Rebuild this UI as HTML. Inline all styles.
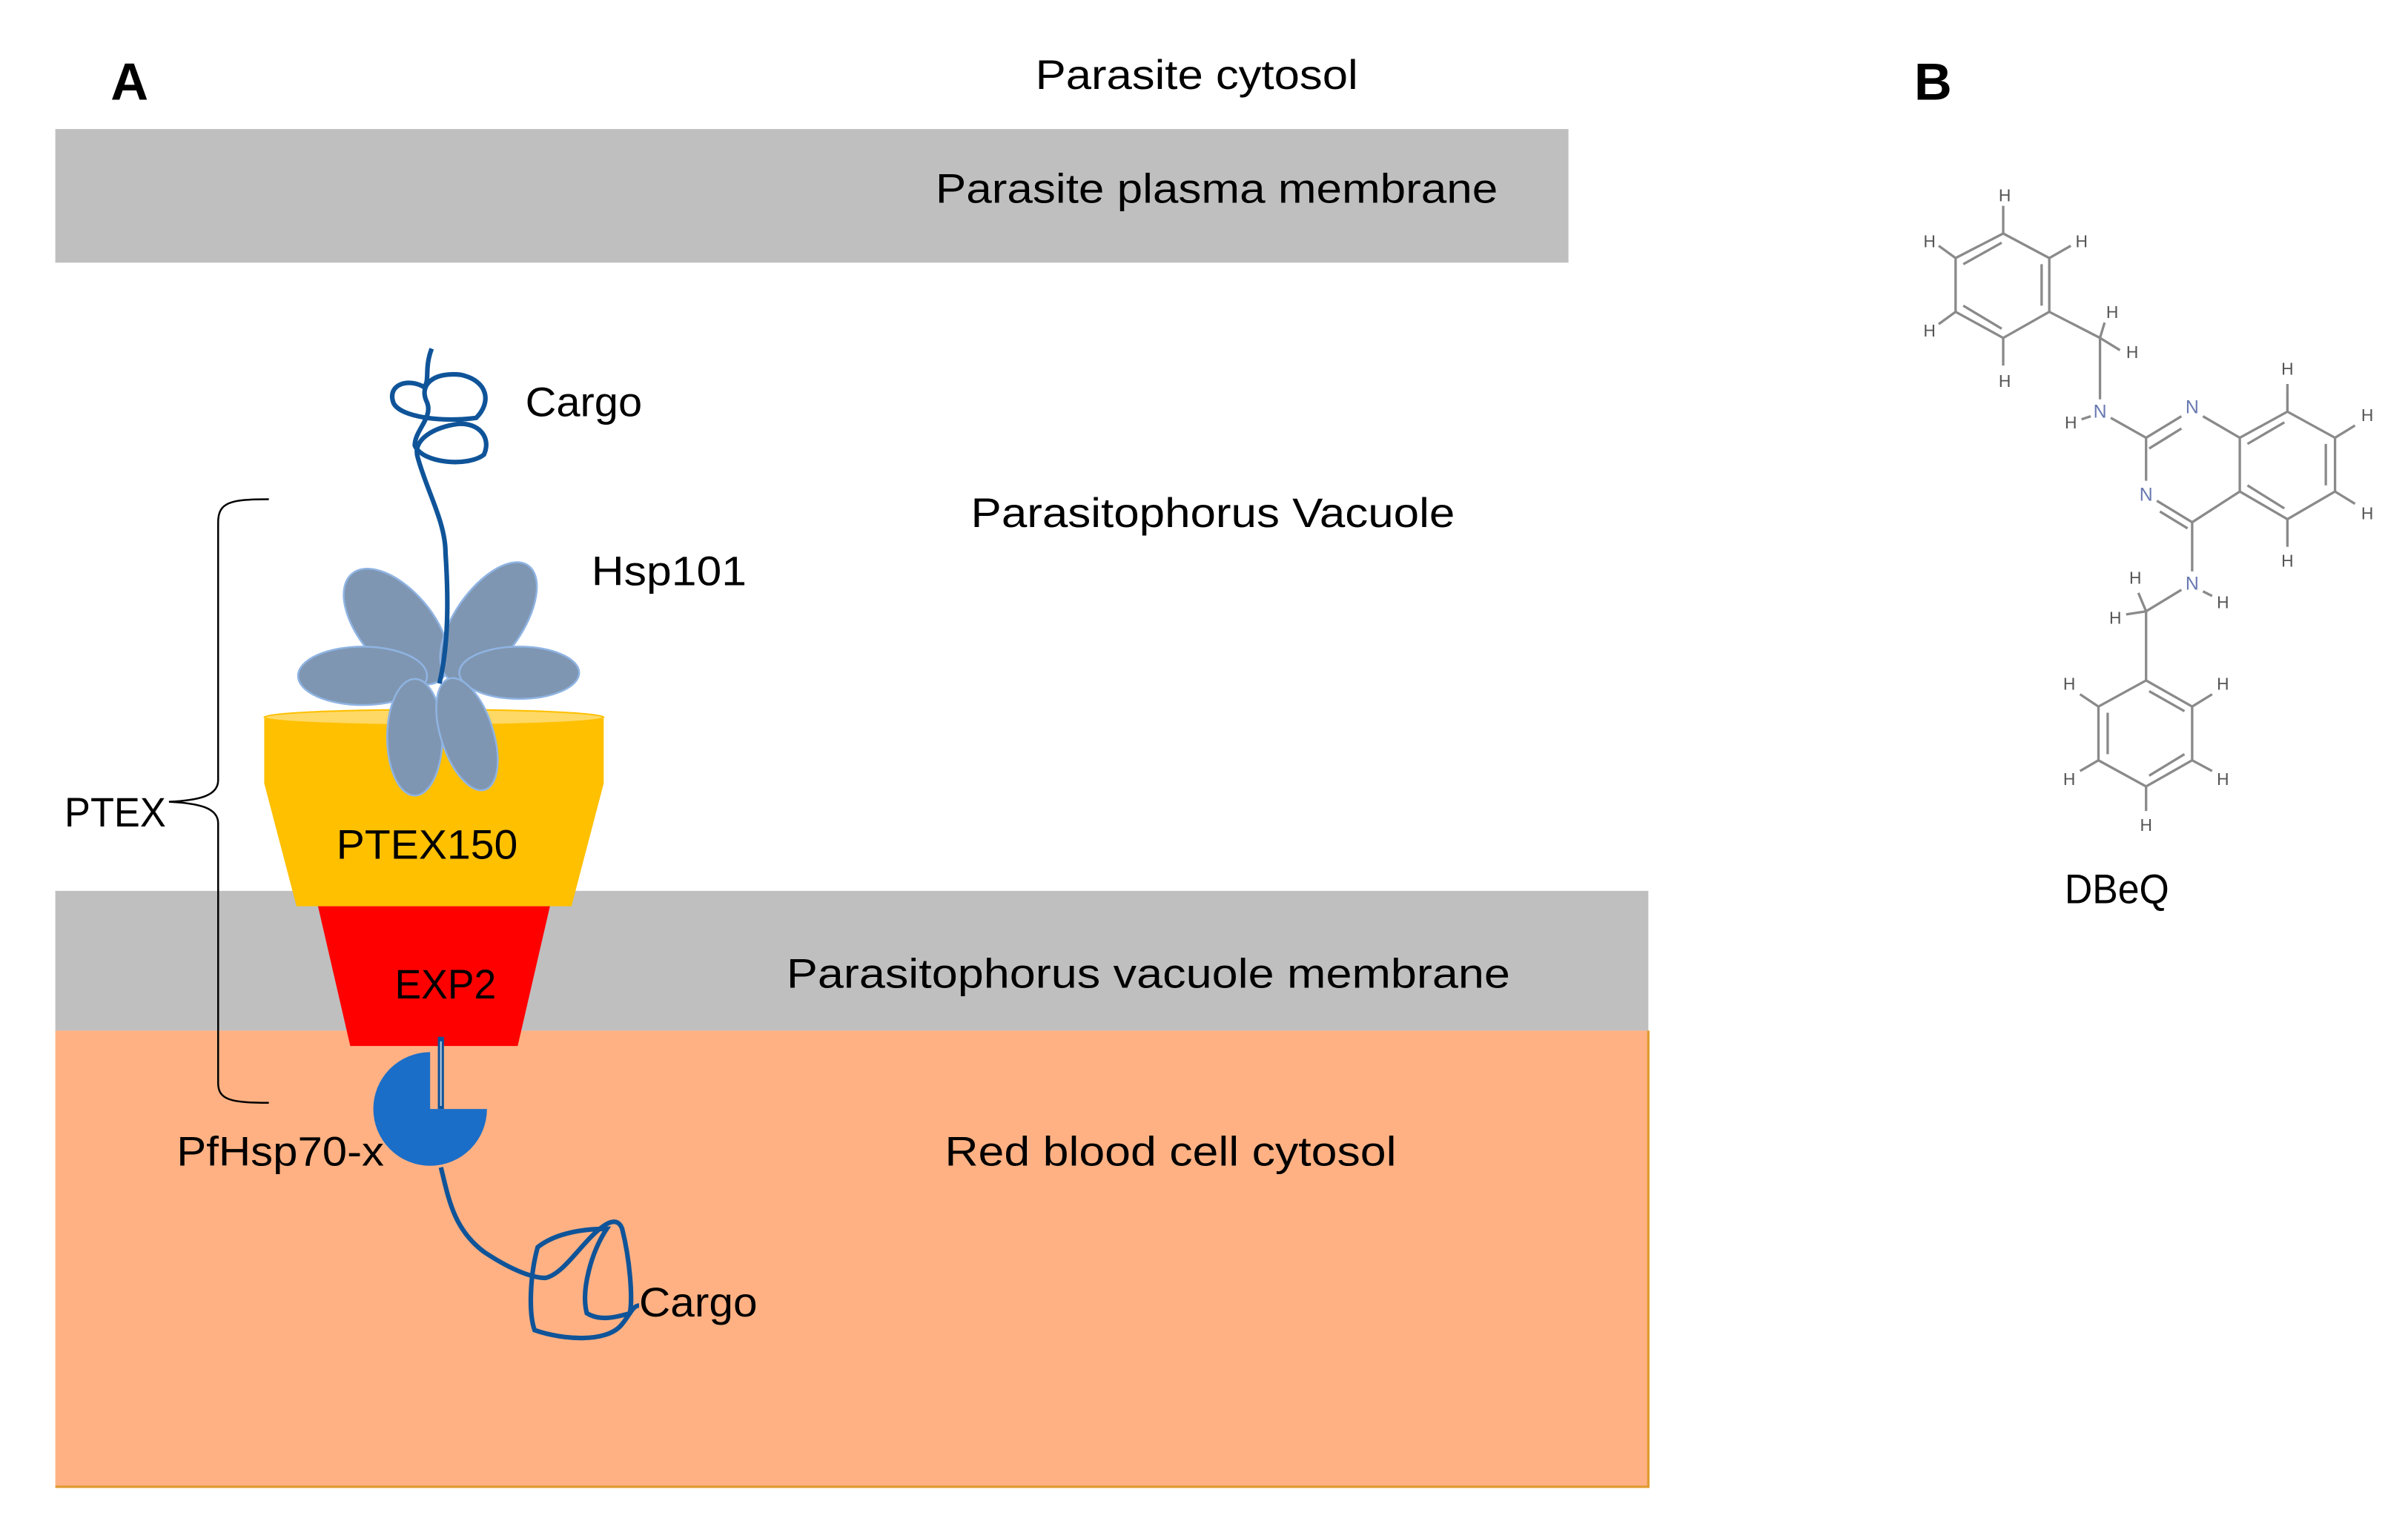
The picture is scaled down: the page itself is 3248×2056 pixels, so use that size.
<!DOCTYPE html>
<html><head><meta charset="utf-8"><style>html,body{margin:0;padding:0;background:#fff}svg{display:block}</style></head>
<body>
<svg xmlns="http://www.w3.org/2000/svg" width="3248" height="2056" viewBox="0 0 1567.5 992.2">
<g font-family="Liberation Sans, Arial, sans-serif" font-size="27" fill="#000">
<rect x="36" y="84" width="985" height="87" fill="#bfbfbf"/>
<rect x="36" y="580" width="1037" height="91" fill="#bfbfbf"/>
<rect x="36" y="671" width="1037" height="297" fill="#ffb183"/>
<path d="M1073,671 V968 H36" fill="none" stroke="#e09a2c" stroke-width="1.5"/>

<text x="72" y="65" font-size="34" font-weight="bold">A</text>
<text x="1246" y="65" font-size="34" font-weight="bold">B</text>
<text x="674" y="58" textLength="210" lengthAdjust="spacingAndGlyphs">Parasite cytosol</text>
<text x="609" y="132" textLength="366" lengthAdjust="spacingAndGlyphs">Parasite plasma membrane</text>
<text x="632" y="343" textLength="315" lengthAdjust="spacingAndGlyphs">Parasitophorus Vacuole</text>
<text x="512" y="643" textLength="471" lengthAdjust="spacingAndGlyphs">Parasitophorus vacuole membrane</text>
<text x="615" y="759" textLength="294" lengthAdjust="spacingAndGlyphs">Red blood cell cytosol</text>
<text x="342" y="271" textLength="76" lengthAdjust="spacingAndGlyphs">Cargo</text>
<text x="385" y="381" textLength="101" lengthAdjust="spacingAndGlyphs">Hsp101</text>
<text x="42" y="538" textLength="66" lengthAdjust="spacingAndGlyphs">PTEX</text>
<text x="115" y="759" textLength="135" lengthAdjust="spacingAndGlyphs">PfHsp70-x</text>
<text x="416" y="857" textLength="77" lengthAdjust="spacingAndGlyphs">Cargo</text>
<text x="1344" y="588" textLength="68" lengthAdjust="spacingAndGlyphs">DBeQ</text>

<path d="M175,325 C150,325 142,327 142,340 L142,508 C142,518 130,521 110,522 C130,523 142,526 142,536 L142,705 C142,716 150,718 175,718" fill="none" stroke="#000" stroke-width="1.2"/>

<polygon points="172,468 393,468 393,510 372,590 193,590 172,510" fill="#ffc000"/>
<ellipse cx="282.5" cy="467" rx="110.5" ry="5" fill="#ffd966" stroke="#ffc000" stroke-width="1"/>
<polygon points="207,590 358,590 337,681 228,681" fill="#ff0000"/>
<text x="219" y="559" textLength="118" lengthAdjust="spacingAndGlyphs">PTEX150</text>
<text x="257" y="650" textLength="66" lengthAdjust="spacingAndGlyphs">EXP2</text>

<g fill="#7f96b2" stroke="#8fb4e3" stroke-width="1.2">
<ellipse cx="258" cy="408" rx="45" ry="24" transform="rotate(50 258 408)"/>
<ellipse cx="318" cy="405" rx="45" ry="22" transform="rotate(-55 318 405)"/>
<ellipse cx="236" cy="440" rx="42" ry="19"/>
<ellipse cx="338" cy="438" rx="39" ry="17"/>
<ellipse cx="270" cy="480" rx="18" ry="38"/>
<ellipse cx="304" cy="478" rx="17" ry="38" transform="rotate(-18 304 478)"/>
</g>

<path d="M281,227 C276,240 280,248 276,252 C266,246 252,250 256,262 C260,272 290,275 310,272 C320,262 318,248 300,244 C283,242 272,250 278,262 C282,272 270,280 270,290 C275,302 305,304 315,296 C320,285 312,275 298,276 C283,278 268,286 272,298 C278,320 290,340 290,360 C292,390 292,420 286,445" fill="none" stroke="#0f5499" stroke-width="3"/>

<path d="M280,722 L280,685 A37,37 0 1,0 317,722 Z" fill="#1b6ec8"/>
<line x1="287" y1="675" x2="287" y2="722" stroke="#0f5499" stroke-width="4"/>
<line x1="287" y1="678" x2="287" y2="720" stroke="#bcd" stroke-width="1"/>
<path d="M287,760 C292,780 295,800 315,815 C330,825 345,832 355,832 C365,830 375,815 385,805 C395,795 402,792 405,800 C410,820 412,845 410,855 C400,858 390,860 382,855 C378,840 385,815 395,800 C390,800 365,800 350,812 C345,830 344,855 348,866 C365,872 395,875 405,862 C410,856 412,850 416,850" fill="none" stroke="#0f5499" stroke-width="3"/>

<g stroke="#8a8a8a" stroke-width="1.6" fill="none">
<polygon points="1304,152 1334,168 1334,203 1304,220 1273,203 1273,168"/>
<line x1="1278" y1="172" x2="1303" y2="158"/><line x1="1329" y1="172" x2="1329" y2="199"/><line x1="1278" y1="199" x2="1303" y2="214"/>
<line x1="1304" y1="152" x2="1304" y2="134"/><line x1="1273" y1="168" x2="1262" y2="160"/><line x1="1334" y1="168" x2="1348" y2="160"/><line x1="1273" y1="203" x2="1262" y2="211"/><line x1="1304" y1="220" x2="1304" y2="238"/>
<line x1="1334" y1="203" x2="1367" y2="220"/><line x1="1367" y1="220" x2="1370" y2="210"/><line x1="1367" y1="220" x2="1380" y2="228"/>
<line x1="1367" y1="220" x2="1367" y2="260"/><line x1="1361" y1="271" x2="1355" y2="273"/>
<line x1="1374" y1="272" x2="1397" y2="285"/>
<line x1="1397" y1="285" x2="1420" y2="271"/><line x1="1399" y1="292" x2="1420" y2="279"/>
<line x1="1434" y1="271" x2="1458" y2="285"/>
<line x1="1397" y1="285" x2="1397" y2="313"/>
<line x1="1404" y1="326" x2="1427" y2="340"/><line x1="1406" y1="333" x2="1424" y2="344"/>
<line x1="1427" y1="340" x2="1458" y2="320"/>
<line x1="1458" y1="285" x2="1458" y2="320"/>
<polyline points="1458,285 1489,268 1520,285 1520,320 1489,338 1458,320"/>
<line x1="1463" y1="289" x2="1487" y2="275"/><line x1="1514" y1="289" x2="1514" y2="316"/><line x1="1463" y1="316" x2="1487" y2="331"/>
<line x1="1489" y1="268" x2="1489" y2="250"/><line x1="1520" y1="285" x2="1533" y2="277"/><line x1="1520" y1="320" x2="1533" y2="328"/><line x1="1489" y1="338" x2="1489" y2="356"/>
<line x1="1427" y1="340" x2="1427" y2="372"/><line x1="1434" y1="385" x2="1440" y2="388"/>
<line x1="1420" y1="384" x2="1397" y2="398"/><line x1="1397" y1="398" x2="1392" y2="386"/><line x1="1397" y1="398" x2="1384" y2="400"/>
<line x1="1397" y1="398" x2="1397" y2="443"/>
<polygon points="1397,443 1427,460 1427,495 1397,512 1366,495 1366,460"/>
<line x1="1399" y1="450" x2="1422" y2="463"/><line x1="1372" y1="464" x2="1372" y2="491"/><line x1="1399" y1="505" x2="1422" y2="491"/>
<line x1="1366" y1="460" x2="1354" y2="452"/><line x1="1427" y1="460" x2="1440" y2="452"/><line x1="1366" y1="495" x2="1354" y2="502"/><line x1="1427" y1="495" x2="1440" y2="502"/><line x1="1397" y1="512" x2="1397" y2="528"/>
</g>
<g font-size="11" fill="#555" text-anchor="middle">
<text x="1305" y="131">H</text><text x="1256" y="161">H</text><text x="1355" y="161">H</text><text x="1256" y="219">H</text><text x="1305" y="252">H</text>
<text x="1375" y="207">H</text><text x="1388" y="233">H</text><text x="1348" y="279">H</text>
<text x="1489" y="244">H</text><text x="1541" y="274">H</text><text x="1541" y="338">H</text><text x="1489" y="369">H</text>
<text x="1390" y="380">H</text><text x="1377" y="406">H</text><text x="1447" y="396">H</text>
<text x="1347" y="449">H</text><text x="1447" y="449">H</text><text x="1347" y="511">H</text><text x="1447" y="511">H</text><text x="1397" y="541">H</text>
</g>
<g font-size="12" fill="#6878b0" text-anchor="middle">
<text x="1367" y="272">N</text><text x="1427" y="269">N</text><text x="1397" y="326">N</text><text x="1427" y="384">N</text>
</g>
</g>
</svg>
</body></html>
